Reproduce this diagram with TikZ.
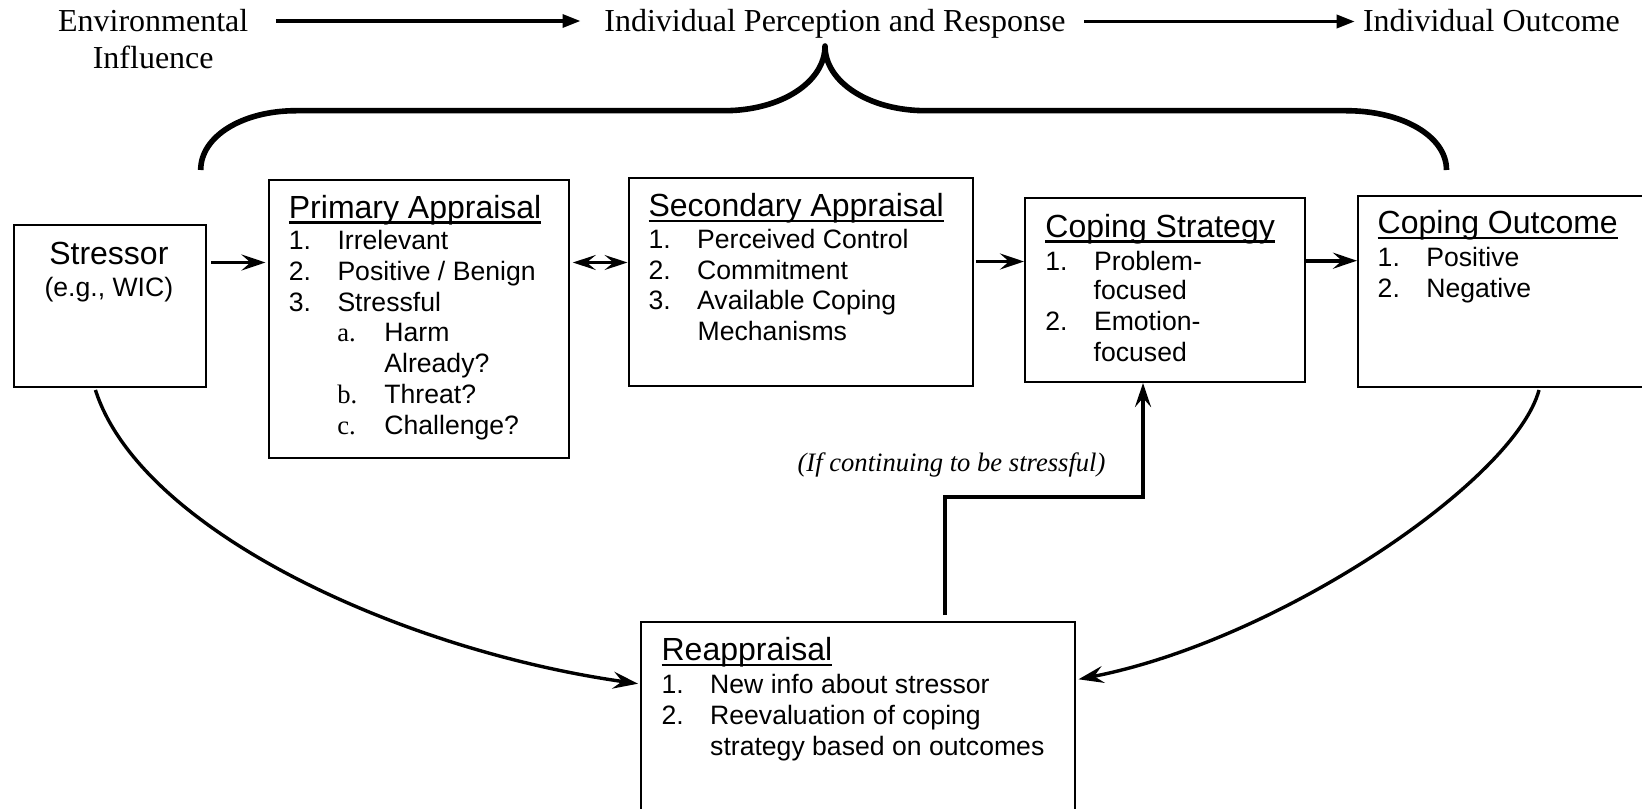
\documentclass[tikz,border=0pt]{standalone}
\usepackage{fontspec}
\setmainfont{Liberation Serif}
\newfontfamily\arialf{Liberation Sans}
\usetikzlibrary{arrows.meta,calc}

% Word-style underline that runs through the descenders
\newsavebox\ulsave
\newcommand\ulword[1]{\sbox\ulsave{#1}\rlap{\rule[-2.7pt]{\wd\ulsave}{1.2pt}}\usebox\ulsave}
% numbered list entry and lettered sub-entry with hanging labels
\newcommand\numd[2]{\makebox[24.3pt][l]{#1}#2}
\newcommand\subd[2]{\makebox[23.5pt][l]{\rmfamily #1}#2}

\tikzset{
  panel/.style={draw, line width=1pt, rectangle, inner sep=0pt, anchor=north west},
  head/.style={inner sep=0pt, anchor=base west, font=\arialf\fontsize{16}{19}\selectfont},
  entry/.style={inner sep=0pt, anchor=base west, font=\arialf\fontsize{13.3}{15.5}\selectfont},
  toptext/.style={inner sep=0pt, font=\fontsize{16}{19}\selectfont},
  note/.style={inner sep=0pt, anchor=base, font=\fontsize{13.3}{16}\selectfont\itshape},
  flow/.style={line width=1.7pt, -{Triangle[length=9pt,width=6.5pt]}},
  link/.style={line width=1.8pt, -{Stealth[length=12pt,width=8pt,inset=4.5pt]}},
  twoway/.style={line width=1.1pt, {Stealth[length=11.5pt,width=7.5pt,inset=4.5pt]}-{Stealth[length=11.5pt,width=7.5pt,inset=4.5pt]}},
  loopback/.style={line width=1.7pt, -{Stealth[length=12.5pt,width=8.5pt,inset=4.5pt]}},
  brace/.style={line width=2.8pt, line join=round},
}

\begin{document}
\begin{tikzpicture}[x=0.5pt, y=-0.5pt]
\useasboundingbox (0,0) rectangle (1642,808);

% ---- top row: stages of the model
\node[toptext, anchor=base] (envA) at (153.2,31.7) {Environmental};
\node[toptext, anchor=base] (envB) at (153.2,68.3) {Influence};
\node[toptext, anchor=base west] (ipr) at (604,31.7) {Individual Perception and Response};
\node[toptext, anchor=base west] (io) at (1362.6,31.7) {Individual Outcome};
\draw[flow] ($(envA.base east)+(13.6pt,5.35pt)$) -- ($(ipr.base west)+(-11.75pt,5.35pt)$);
\draw[flow] ($(ipr.base east)+(9pt,5.1pt)$) -- ($(io.base west)+(-3.95pt,5.1pt)$);

% ---- brace grouping the appraisal and coping stages
\draw[brace] (200.7,170) .. controls (200.7,136) and (243,110.7) .. (296,110.7)
  -- (724,110.7) .. controls (781,110.7) and (825,82) .. (825,46)
  .. controls (825,82) and (869,110.7) .. (926,110.7)
  -- (1346,110.7) .. controls (1402,110.7) and (1446.5,136) .. (1446.5,170);

% ---- boxes
\node[panel, minimum width=96.15pt, minimum height=80.75pt] (stressor) at (12.7,224) {};
\node[panel, minimum width=150.25pt, minimum height=139.1pt] (primary) at (267.5,178.5) {};
\node[panel, minimum width=172pt, minimum height=104pt] (secondary) at (627.5,177) {};
\node[panel, minimum width=140pt, minimum height=92pt] (strategy) at (1024,197) {};
\node[panel, minimum width=160pt, minimum height=95.5pt] (outcome) at (1357,195) {};
\node[panel, minimum width=216.75pt, minimum height=110pt] (reapp) at (640,620.5) {};

% Stressor
\node[inner sep=0pt, anchor=base, font=\arialf\fontsize{16}{19}\selectfont] (st-t) at (108.85,264) {Stressor};
\node[inner sep=0pt, anchor=base, font=\arialf\fontsize{13.3}{15.5}\selectfont] (st-e) at (108.85,296.7) {(e.g., WIC)};

% Primary appraisal
\node[head] (pa-t) at (288.5,218.3) {\ulword{Primary Appraisal}};
\node[entry] (pa-1) at (288.5,249.5) {\numd{1.}{Irrelevant}};
\node[entry] (pa-2) at (288.5,280.3) {\numd{2.}{Positive / Benign}};
\node[entry] (pa-3) at (288.5,311.1) {\numd{3.}{Stressful}};
\node[entry] (pa-a) at (337,341.9) {\subd{a.}{Harm}};
\node[entry] (pa-a2) at (384,372.7) {Already?};
\node[entry] (pa-b) at (337,403.5) {\subd{b.}{Threat?}};
\node[entry] (pa-c) at (337,434.3) {\subd{c.}{Challenge?}};

% Secondary appraisal
\node[head] (sa-t) at (648.2,216.9) {\ulword{Secondary Appraisal}};
\node[entry] (sa-1) at (648.2,248.3) {\numd{1.}{Perceived Control}};
\node[entry] (sa-2) at (648.2,279.1) {\numd{2.}{Commitment}};
\node[entry] (sa-3) at (648.2,309.9) {\numd{3.}{Available Coping}};
\node[entry] (sa-3b) at (697.3,340.7) {Mechanisms};

% Coping strategy
\node[head] (cs-t) at (1045,237.3) {\ulword{Coping Strategy}};
\node[entry] (cs-1) at (1045,270) {\numd{1.}{Problem-}};
\node[entry] (cs-1b) at (1093.3,299.8) {focused};
\node[entry] (cs-2) at (1045,330.4) {\numd{2.}{Emotion-}};
\node[entry] (cs-2b) at (1093.3,361) {focused};

% Coping outcome
\node[head] (co-t) at (1377.3,233.8) {\ulword{Coping Outcome}};
\node[entry] (co-1) at (1377.3,266.7) {\numd{1.}{Positive}};
\node[entry] (co-2) at (1377.3,297.5) {\numd{2.}{Negative}};

% Reappraisal
\node[head] (re-t) at (661.2,660.5) {\ulword{Reappraisal}};
\node[entry] (re-1) at (661.2,693.8) {\numd{1.}{New info about stressor}};
\node[entry] (re-2) at (661.2,724.4) {\numd{2.}{Reevaluation of coping}};
\node[entry] (re-2b) at (709.8,755) {strategy based on outcomes};

% ---- connectors between boxes
\coordinate (rowA) at (0,262.5);
\coordinate (rowB) at (0,261.5);
\coordinate (rowC) at (0,260.7);
\draw[link] ($(stressor.east |- rowA)+(2pt,0)$) -- ($(primary.west |- rowA)+(-1pt,0)$);
\draw[twoway] ($(primary.east |- rowA)+(1.4pt,0)$) -- (secondary.west |- rowA);
\draw[link] ($(secondary.east |- rowB)+(1.3pt,0)$) -- (strategy.west |- rowB);
\draw[link] (strategy.east |- rowC) -- (outcome.west |- rowC);

% feedback from reappraisal to coping strategy
\coordinate (bend) at (1143,497);
\draw[link, line width=2pt] ($(reapp.north west)+(152.25pt,2.75pt)$) |- (bend) -- (strategy.south -| bend);
\node[note] (cond) at (951.5,471.7) {(If continuing to be stressful)};

% curved links into reappraisal
\draw[loopback] ($(stressor.south)+(-7.2pt,-1.25pt)$) .. controls (140,530) and (400,650) .. ($(reapp.west)+(-1pt,23.9pt)$);
\draw[loopback] ($(outcome.south west)+(91pt,-1pt)$) .. controls (1515,480) and (1280,640) .. ($(reapp.east)+(1.5pt,26.1pt)$);
\end{tikzpicture}
\end{document}
